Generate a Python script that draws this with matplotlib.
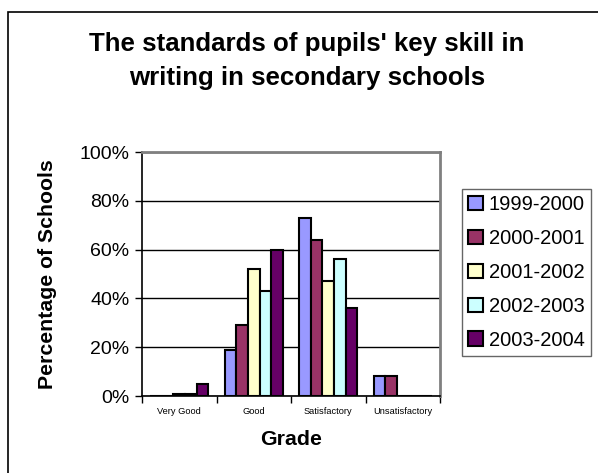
import numpy as np
import matplotlib.pyplot as plt
from matplotlib.patches import Patch, Rectangle

plt.rcParams['font.family'] = ['Liberation Sans', 'DejaVu Sans']

grades = ['Very Good', 'Good', 'Satisfactory', 'Unsatisfactory']
years = ['1999-2000', '2000-2001', '2001-2002', '2002-2003', '2003-2004']
colors = ['#9999FF', '#993366', '#FFFFCC', '#CCFFFF', '#660066']

# percentage of schools per grade, one list per school year
y1999 = [0, 19, 73, 8]
y2000 = [0, 29, 64, 8]
y2001 = [1, 52, 47, 0]
y2002 = [1, 43, 56, 0]
y2003 = [5, 60, 36, 0]
series = [y1999, y2000, y2001, y2002, y2003]

fig = plt.figure(figsize=(5.98, 4.73), dpi=100)

# outer chart border
fig.patches.append(Rectangle((8 / 598, -0.1), 1.2, 1 - 12 / 473 + 0.1,
                             transform=fig.transFigure, fill=False,
                             edgecolor='black', linewidth=1.2))

ax = fig.add_axes([142 / 598, 1 - 396 / 473, 298 / 598, 244 / 473])

x = np.arange(len(grades))
w = 0.157
for i, (vals, col) in enumerate(zip(series, colors)):
    ax.bar(x + (i - 2) * w, vals, width=w, color=col, edgecolor='black',
           linewidth=1.5, label=years[i], zorder=3)

ax.set_xlim(-0.5, 3.5)
ax.set_ylim(0, 100)
ax.set_yticks(range(0, 101, 20))
ax.set_yticklabels([f'{v}%' for v in range(0, 101, 20)], fontsize=14)
ax.yaxis.grid(True, color='black', linewidth=1, zorder=1)
ax.tick_params(axis='y', direction='out', length=5, width=1, pad=4)

ax.set_xticks(x)
ax.set_xticklabels(grades, fontsize=6.7)
ax.set_xticks(np.arange(-0.5, 4, 1), minor=True)
ax.tick_params(axis='x', which='major', length=0, pad=8)
ax.tick_params(axis='x', which='minor', direction='out', length=5, width=1)

for side in ['top', 'right']:
    ax.spines[side].set_color('#808080')
    ax.spines[side].set_linewidth(2)
for side in ['left', 'bottom']:
    ax.spines[side].set_color('black')
    ax.spines[side].set_linewidth(1.2)

ax.set_xlabel('Grade', fontsize=15.3, fontweight='bold', labelpad=10)
ax.set_ylabel('Percentage of Schools', fontsize=15.3, fontweight='bold', labelpad=16)

fig.text(307 / 598, 1 - 61 / 473, "The standards of pupils' key skill in\nwriting in secondary schools",
         ha='center', va='center', fontsize=18.6, fontweight='bold', linespacing=1.55)

handles = [Patch(facecolor=c, edgecolor='black', linewidth=1.5) for c in colors]
leg = fig.legend(handles, years, loc='upper left',
                 bbox_to_anchor=(462 / 598, 1 - 189 / 473),
                 fontsize=14.5, frameon=True, fancybox=False,
                 handlelength=0.72, handleheight=0.72, handletextpad=0.3,
                 labelspacing=0.74, borderpad=0.3, borderaxespad=0)
leg.get_frame().set_edgecolor('#404040')
leg.get_frame().set_linewidth(1)

fig.savefig('out.png', dpi=100)
